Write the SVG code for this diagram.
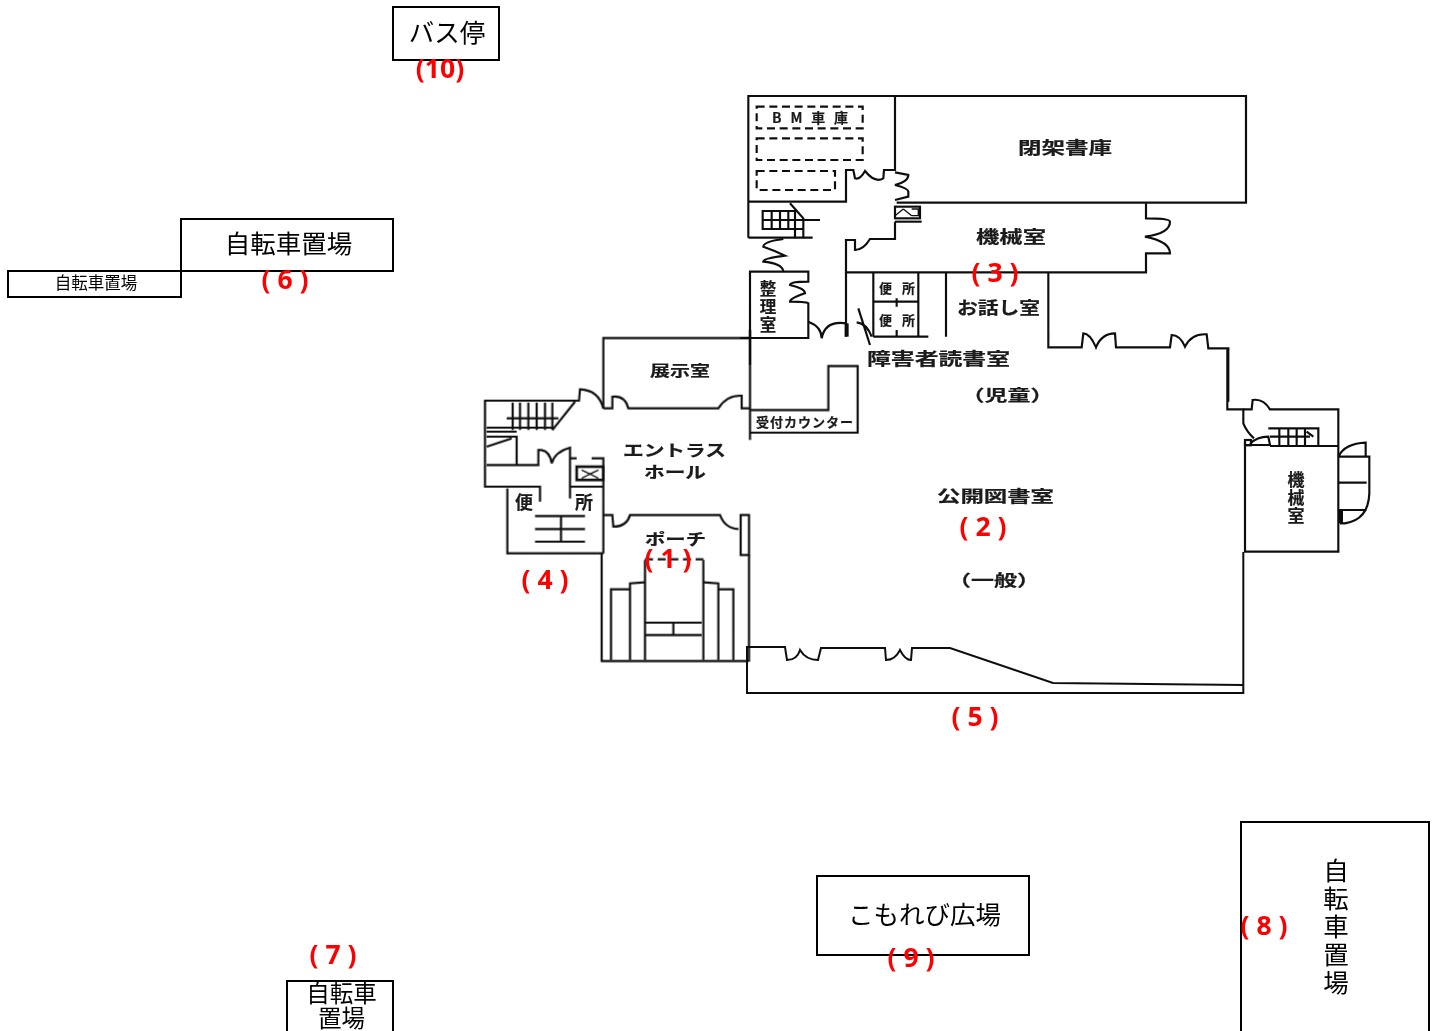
<svg xmlns="http://www.w3.org/2000/svg" width="1438" height="1031" viewBox="0 0 1438 1031">
<defs>
<style>
.box{fill:#fff;stroke:#000;stroke-width:2}
.j{font-family:"Noto Sans CJK JP","Noto Sans",sans-serif;fill:#000}
.t26{font-size:25.5px}
.p{font-family:"Noto Sans CJK JP","Noto Sans",sans-serif;fill:#1a1a1a;font-weight:700;stroke:#1a1a1a;stroke-width:.2}
.m{text-anchor:middle}
.r{font-family:"Noto Sans","Open Sans",sans-serif;font-size:26.5px;font-weight:700;fill:#f00;text-anchor:middle}
.w{fill:none;stroke:#111;stroke-width:6.5;stroke-linejoin:miter}
.d{stroke-dasharray:24 14}
</style>
<filter id="scan" x="-2%" y="-2%" width="104%" height="104%"><feGaussianBlur stdDeviation="0.3"/></filter>
</defs>
<rect width="1438" height="1031" fill="#fff"/>
<g id="plan" filter="url(#scan)">
<g transform="translate(740,85) scale(.33333)" class="w">
<path d="M25 458V33H1518V353H470"/>
<path d="M465 33V255H432L430 280Q405 295 375 258Q360 285 345 280L340 255H318V350H25"/>
<path d="M465 262L505 270Q505 290 465 300Q505 310 505 320V335L465 345"/>
<rect x="465" y="365" width="75" height="35"/>
<path d="M490 372L465 392M490 372L515 392M515 372H535V392H515" stroke-width="4"/>
<path d="M465 410H545"/>
<path d="M1218 355V400Q1290 400 1290 410Q1290 445 1215 455Q1290 470 1290 505H1218V562H318V465H345V495Q370 495 390 462H465V410"/>
<path class="d" d="M50 65H368V130H50Z"/>
<path class="d" d="M50 160H368V225H50Z"/>
<path class="d" d="M50 258H285V315H50Z"/>
<path d="M68 378H145V432H68ZM95 378V432M120 378V432M68 405H240"/>
<path d="M150 355L190 400V460M145 378H170M165 378V460M145 432H190"/>
<path d="M25 458H218"/>
<path d="M130 462Q70 470 70 485Q100 495 135 512Q70 520 70 530Q125 535 130 558"/>
<path d="M30 840V560H205V590Q150 590 150 600Q195 610 195 625Q150 640 150 650Q205 650 205 655V759H0"/>
<path d="M205 710Q245 725 245 760Q255 705 320 715M350 712Q380 715 395 755"/>
<path d="M320 715V755" stroke-width="12"/>
<path d="M355 670L390 780"/>
<path d="M318 562V755M400 562V755M535 562V755M400 650H535M470 640V665M470 735V755M400 755H565M618 562V755"/>
<path d="M925 562V787H1025L1030 745Q1050 745 1068 787Q1085 745 1125 745L1128 787H1290L1295 750Q1320 750 1335 785Q1355 745 1400 748L1405 790H1465V950"/>
</g>
<g transform="translate(475,330) scale(.33333)" class="w">
<path d="M825 0V330M385 235V24H825"/>
<path d="M385 235H412V200Q450 195 460 235H730Q755 195 800 197V235H825"/>
<path d="M385 235Q370 180 315 178L312 212H30V470H195V515"/>
<path d="M113 218V300M135 218V300M160 218V300M185 218V300M210 218V300M232 218V300M95 265H250M35 293H232M232 300L300 215"/>
<path d="M35 305H125M35 320H125V405M35 350L110 325"/>
<path d="M35 405H190V360H200Q225 365 230 400Q240 365 285 353V505M285 385H305M350 385H385V670"/>
<rect x="305" y="410" width="80" height="40" stroke-width="8"/>
<path d="M320 420L345 432L320 445M370 420L345 432L370 445" stroke-width="4"/>
<path d="M285 470H385M97 475V670H385"/>
<path d="M180 558H330M180 597H330M180 635H330M258 558V597M258 597V635"/>
<path d="M385 555H412L415 590Q455 590 465 555H735Q750 595 790 597"/>
<rect x="797" y="555" width="25" height="120"/>
<path d="M822 675V995M380 670V995M378 993H820"/>
<path d="M510 990V690M685 690V990" />
<path class="d" d="M510 688H685"/>
<path d="M465 990V760L510 757M685 757L730 760V990M408 990V778H465M730 778H775V990M510 878H680M510 915H680M595 878V915"/>
<path d="M825 240H1060V108H1148V308H825"/>
</g>
<g class="w" style="stroke-width:2">
<path d="M1243.3 552V693H747V647H785L787 660Q797 660 800 650Q806 660 818 660L821 648H885L886 660Q895 660 900 650Q905 660 911 660L912 648H950L1053 683L1243 685"/>
</g>
<g transform="translate(1030,320) scale(.33333)" class="w">
<path d="M592 88V268H640V310Q650 335 672 355"/>
<path d="M640 268H665L668 240Q700 235 720 268H925V695H645V365M645 375H720L715 350Q680 350 660 372M720 378H925"/>
<rect x="645" y="360" width="18" height="16"/>
<path d="M748 325V375M775 325V375M800 325V375M825 325V375M715 325H865V375M720 350H840M830 335L850 350"/>
<path d="M925 410Q945 370 1007 368V408M925 410H1018V520Q1015 600 945 610H930M925 488H1010M925 570H1010"/>
<path d="M932 570V610" stroke-width="14"/>
</g>
<g id="plan-labels">
<text class="p" x="772" y="123" font-size="14" textLength="76">BM車庫</text>
<text class="p" x="1018" y="154" font-size="17" textLength="94" lengthAdjust="spacingAndGlyphs">閉架書庫</text>
<text class="p" x="976" y="243" font-size="17" textLength="70" lengthAdjust="spacingAndGlyphs">機械室</text>
<text class="p m" x="768" y="295" font-size="16.5">整</text>
<text class="p m" x="768" y="313" font-size="16.5">理</text>
<text class="p m" x="768" y="331" font-size="16.5">室</text>
<text class="p" x="879" y="293" font-size="13" textLength="36">便所</text>
<text class="p" x="879" y="325" font-size="13" textLength="36">便所</text>
<text class="p" x="957" y="314" font-size="17" textLength="83" lengthAdjust="spacingAndGlyphs">お話し室</text>
<text class="p" x="867" y="365" font-size="17" textLength="143" lengthAdjust="spacingAndGlyphs">障害者読書室</text>
<text class="p" x="961.5" y="401" font-size="16" textLength="92" lengthAdjust="spacingAndGlyphs">（児童）</text>
<text class="p" x="650" y="376" font-size="15" textLength="60" lengthAdjust="spacingAndGlyphs">展示室</text>
<text class="p" x="756" y="427" font-size="13" textLength="97">受付カウンター</text>
<text class="p" x="623" y="456" font-size="16" textLength="103" font-weight="400" lengthAdjust="spacingAndGlyphs">エントラス</text>
<text class="p" x="644" y="478" font-size="16" textLength="62" font-weight="400" lengthAdjust="spacingAndGlyphs">ホール</text>
<text class="p" x="515" y="509" font-size="18" font-weight="400">便</text>
<text class="p" x="575" y="509" font-size="18" font-weight="400">所</text>
<text class="p" x="645" y="545" font-size="16" textLength="61" font-weight="400" lengthAdjust="spacingAndGlyphs">ポーチ</text>
<text class="p" x="937" y="502" font-size="16" textLength="117" lengthAdjust="spacingAndGlyphs">公開図書室</text>
<text class="p" x="948" y="586" font-size="16" textLength="92" lengthAdjust="spacingAndGlyphs">（一般）</text>
<text class="p m" x="1296" y="486" font-size="17">機</text>
<text class="p m" x="1296" y="504" font-size="17">械</text>
<text class="p m" x="1296" y="522" font-size="17">室</text>
</g>
</g>
<g id="node-bus"><rect class="box" x="393" y="7" width="106" height="53"/><text class="j t26" x="447" y="42" text-anchor="middle">バス停</text></g>
<g id="node-bike6"><rect class="box" x="181" y="219" width="212" height="52"/><text class="j t26" x="288.5" y="253" text-anchor="middle">自転車置場</text></g>
<g id="node-bike-small"><rect class="box" x="8" y="271" width="173" height="26"/><text class="j" x="96" y="289" font-size="16.5" text-anchor="middle">自転車置場</text></g>
<g id="node-bike7"><rect class="box" x="287" y="981" width="106" height="60"/><text class="j" x="341.5" y="1002" font-size="23.5" text-anchor="middle">自転車</text><text class="j" x="341.5" y="1027" font-size="23.5" text-anchor="middle">置場</text></g>
<g id="node-komorebi"><rect class="box" x="817" y="876" width="212" height="79"/><text class="j" x="924.5" y="924" font-size="25.5" text-anchor="middle">こもれび広場</text></g>
<g id="node-bike8"><rect class="box" x="1241" y="822" width="188" height="220"/>
<text class="j t26" x="1336" y="880" text-anchor="middle">自</text><text class="j t26" x="1336" y="908" text-anchor="middle">転</text><text class="j t26" x="1336" y="936" text-anchor="middle">車</text><text class="j t26" x="1336" y="964" text-anchor="middle">置</text><text class="j t26" x="1336" y="992" text-anchor="middle">場</text></g>
<g id="numbers">
<text class="r" x="440" y="78">(10)</text>
<text class="r" x="285" y="289">( 6 )</text>
<text class="r" x="995" y="282">( 3 )</text>
<text class="r" x="668" y="568">( 1 )</text>
<text class="r" x="545" y="589">( 4 )</text>
<text class="r" x="983" y="536">( 2 )</text>
<text class="r" x="975" y="726">( 5 )</text>
<text class="r" x="333" y="964">( 7 )</text>
<text class="r" x="911" y="967">( 9 )</text>
<text class="r" x="1264" y="935">( 8 )</text>
</g>
</svg>
